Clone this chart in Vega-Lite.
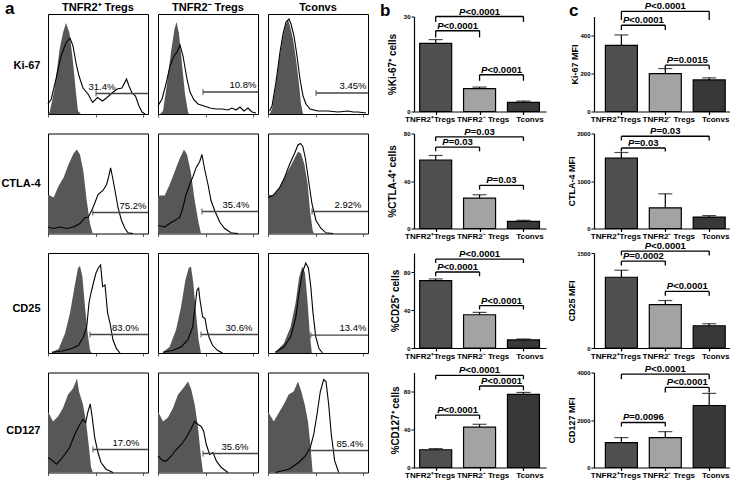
{
"$schema":"https://vega.github.io/schema/vega-lite/v6.json",
"padding":{"left":0,"top":0,"right":0,"bottom":0},
"background":"white",
"columns":8,
"spacing":{"row":19.5,"column":10},
"bounds":"flush",
"align":"each",
"center":true,
"config":{
 "font":"Liberation Sans",
 "view":{"stroke":"black","strokeWidth":1},
 "axis":{"grid":false,"domainColor":"black","tickColor":"black","labelColor":"black","titleColor":"black"},
 "axisY":{"labelFontSize":6,"labelFontWeight":"bold","tickSize":3,"domainWidth":1.2,"tickWidth":1,"labelPadding":1,"titleFontSize":10,"titleFontWeight":"bold"},
 "title":{"color":"black","fontWeight":"bold"}
},
"datasets":{
"hist":[
{"m":"Ki-67","p":"TNFR2⁺ Tregs","k":"c","x":0,"y":0},{"m":"Ki-67","p":"TNFR2⁺ Tregs","k":"c","x":1.6,"y":1.6},{"m":"Ki-67","p":"TNFR2⁺ Tregs","k":"c","x":6.6,"y":25},{"m":"Ki-67","p":"TNFR2⁺ Tregs","k":"c","x":11.5,"y":64},{"m":"Ki-67","p":"TNFR2⁺ Tregs","k":"c","x":14.9,"y":81},{"m":"Ki-67","p":"TNFR2⁺ Tregs","k":"c","x":18,"y":91},{"m":"Ki-67","p":"TNFR2⁺ Tregs","k":"c","x":21.5,"y":81},{"m":"Ki-67","p":"TNFR2⁺ Tregs","k":"c","x":24.8,"y":54},{"m":"Ki-67","p":"TNFR2⁺ Tregs","k":"c","x":28,"y":21},{"m":"Ki-67","p":"TNFR2⁺ Tregs","k":"c","x":30,"y":3},{"m":"Ki-67","p":"TNFR2⁺ Tregs","k":"c","x":33,"y":0},
{"m":"Ki-67","p":"TNFR2⁺ Tregs","k":"s","x":0,"y":10},{"m":"Ki-67","p":"TNFR2⁺ Tregs","k":"s","x":3.3,"y":15},{"m":"Ki-67","p":"TNFR2⁺ Tregs","k":"s","x":8,"y":35},{"m":"Ki-67","p":"TNFR2⁺ Tregs","k":"s","x":13,"y":58},{"m":"Ki-67","p":"TNFR2⁺ Tregs","k":"s","x":18,"y":71},{"m":"Ki-67","p":"TNFR2⁺ Tregs","k":"s","x":22,"y":76},{"m":"Ki-67","p":"TNFR2⁺ Tregs","k":"s","x":25,"y":68},{"m":"Ki-67","p":"TNFR2⁺ Tregs","k":"s","x":28,"y":51},{"m":"Ki-67","p":"TNFR2⁺ Tregs","k":"s","x":31,"y":38},{"m":"Ki-67","p":"TNFR2⁺ Tregs","k":"s","x":35,"y":26},{"m":"Ki-67","p":"TNFR2⁺ Tregs","k":"s","x":40,"y":20},{"m":"Ki-67","p":"TNFR2⁺ Tregs","k":"s","x":44.6,"y":11.6},{"m":"Ki-67","p":"TNFR2⁺ Tregs","k":"s","x":49.5,"y":16.5},{"m":"Ki-67","p":"TNFR2⁺ Tregs","k":"s","x":54.5,"y":13},{"m":"Ki-67","p":"TNFR2⁺ Tregs","k":"s","x":59,"y":16.5},{"m":"Ki-67","p":"TNFR2⁺ Tregs","k":"s","x":64,"y":21},{"m":"Ki-67","p":"TNFR2⁺ Tregs","k":"s","x":69,"y":25},{"m":"Ki-67","p":"TNFR2⁺ Tregs","k":"s","x":74,"y":26},{"m":"Ki-67","p":"TNFR2⁺ Tregs","k":"s","x":78.5,"y":35},{"m":"Ki-67","p":"TNFR2⁺ Tregs","k":"s","x":81,"y":28},{"m":"Ki-67","p":"TNFR2⁺ Tregs","k":"s","x":84,"y":21},{"m":"Ki-67","p":"TNFR2⁺ Tregs","k":"s","x":87.5,"y":18},{"m":"Ki-67","p":"TNFR2⁺ Tregs","k":"s","x":91,"y":8},{"m":"Ki-67","p":"TNFR2⁺ Tregs","k":"s","x":94,"y":2},{"m":"Ki-67","p":"TNFR2⁺ Tregs","k":"s","x":97,"y":0},
{"m":"Ki-67","p":"TNFR2⁺ Tregs","k":"g","x":48,"y":20.5,"tx":54,"t":"31.4%"},
{"m":"Ki-67","p":"TNFR2⁻ Tregs","k":"c","x":2,"y":0},{"m":"Ki-67","p":"TNFR2⁻ Tregs","k":"c","x":5,"y":3},{"m":"Ki-67","p":"TNFR2⁻ Tregs","k":"c","x":9,"y":30},{"m":"Ki-67","p":"TNFR2⁻ Tregs","k":"c","x":13,"y":62},{"m":"Ki-67","p":"TNFR2⁻ Tregs","k":"c","x":16.5,"y":85},{"m":"Ki-67","p":"TNFR2⁻ Tregs","k":"c","x":18.6,"y":92},{"m":"Ki-67","p":"TNFR2⁻ Tregs","k":"c","x":21,"y":80},{"m":"Ki-67","p":"TNFR2⁻ Tregs","k":"c","x":24,"y":50},{"m":"Ki-67","p":"TNFR2⁻ Tregs","k":"c","x":27,"y":20},{"m":"Ki-67","p":"TNFR2⁻ Tregs","k":"c","x":30,"y":2},{"m":"Ki-67","p":"TNFR2⁻ Tregs","k":"c","x":31,"y":0},
{"m":"Ki-67","p":"TNFR2⁻ Tregs","k":"s","x":0,"y":8},{"m":"Ki-67","p":"TNFR2⁻ Tregs","k":"s","x":4,"y":15},{"m":"Ki-67","p":"TNFR2⁻ Tregs","k":"s","x":8,"y":30},{"m":"Ki-67","p":"TNFR2⁻ Tregs","k":"s","x":12,"y":48},{"m":"Ki-67","p":"TNFR2⁻ Tregs","k":"s","x":16,"y":58},{"m":"Ki-67","p":"TNFR2⁻ Tregs","k":"s","x":19,"y":62},{"m":"Ki-67","p":"TNFR2⁻ Tregs","k":"s","x":22,"y":69},{"m":"Ki-67","p":"TNFR2⁻ Tregs","k":"s","x":25,"y":58},{"m":"Ki-67","p":"TNFR2⁻ Tregs","k":"s","x":29,"y":35},{"m":"Ki-67","p":"TNFR2⁻ Tregs","k":"s","x":32,"y":22},{"m":"Ki-67","p":"TNFR2⁻ Tregs","k":"s","x":36,"y":14},{"m":"Ki-67","p":"TNFR2⁻ Tregs","k":"s","x":40,"y":10},{"m":"Ki-67","p":"TNFR2⁻ Tregs","k":"s","x":46,"y":8},{"m":"Ki-67","p":"TNFR2⁻ Tregs","k":"s","x":52,"y":6},{"m":"Ki-67","p":"TNFR2⁻ Tregs","k":"s","x":58,"y":5},{"m":"Ki-67","p":"TNFR2⁻ Tregs","k":"s","x":64,"y":5},{"m":"Ki-67","p":"TNFR2⁻ Tregs","k":"s","x":70,"y":4},{"m":"Ki-67","p":"TNFR2⁻ Tregs","k":"s","x":74,"y":6},{"m":"Ki-67","p":"TNFR2⁻ Tregs","k":"s","x":78,"y":4},{"m":"Ki-67","p":"TNFR2⁻ Tregs","k":"s","x":82,"y":7},{"m":"Ki-67","p":"TNFR2⁻ Tregs","k":"s","x":86,"y":3},{"m":"Ki-67","p":"TNFR2⁻ Tregs","k":"s","x":90,"y":6},{"m":"Ki-67","p":"TNFR2⁻ Tregs","k":"s","x":94,"y":2},{"m":"Ki-67","p":"TNFR2⁻ Tregs","k":"s","x":98,"y":1},
{"m":"Ki-67","p":"TNFR2⁻ Tregs","k":"g","x":45,"y":22,"tx":85,"t":"10.8%"},
{"m":"Ki-67","p":"Tconvs","k":"c","x":1.6,"y":0},{"m":"Ki-67","p":"Tconvs","k":"c","x":4,"y":5},{"m":"Ki-67","p":"Tconvs","k":"c","x":8,"y":30},{"m":"Ki-67","p":"Tconvs","k":"c","x":12,"y":60},{"m":"Ki-67","p":"Tconvs","k":"c","x":15,"y":78},{"m":"Ki-67","p":"Tconvs","k":"c","x":18,"y":90},{"m":"Ki-67","p":"Tconvs","k":"c","x":20,"y":94},{"m":"Ki-67","p":"Tconvs","k":"c","x":22,"y":88},{"m":"Ki-67","p":"Tconvs","k":"c","x":25,"y":75},{"m":"Ki-67","p":"Tconvs","k":"c","x":28,"y":55},{"m":"Ki-67","p":"Tconvs","k":"c","x":31,"y":30},{"m":"Ki-67","p":"Tconvs","k":"c","x":33,"y":10},{"m":"Ki-67","p":"Tconvs","k":"c","x":35,"y":0},
{"m":"Ki-67","p":"Tconvs","k":"s","x":1.6,"y":3},{"m":"Ki-67","p":"Tconvs","k":"s","x":4,"y":8},{"m":"Ki-67","p":"Tconvs","k":"s","x":8,"y":32},{"m":"Ki-67","p":"Tconvs","k":"s","x":12,"y":62},{"m":"Ki-67","p":"Tconvs","k":"s","x":15,"y":80},{"m":"Ki-67","p":"Tconvs","k":"s","x":18,"y":92},{"m":"Ki-67","p":"Tconvs","k":"s","x":21,"y":95},{"m":"Ki-67","p":"Tconvs","k":"s","x":23,"y":90},{"m":"Ki-67","p":"Tconvs","k":"s","x":26,"y":78},{"m":"Ki-67","p":"Tconvs","k":"s","x":29,"y":58},{"m":"Ki-67","p":"Tconvs","k":"s","x":32,"y":35},{"m":"Ki-67","p":"Tconvs","k":"s","x":35,"y":18},{"m":"Ki-67","p":"Tconvs","k":"s","x":38,"y":10},{"m":"Ki-67","p":"Tconvs","k":"s","x":42,"y":5},{"m":"Ki-67","p":"Tconvs","k":"s","x":50,"y":3},{"m":"Ki-67","p":"Tconvs","k":"s","x":60,"y":3},{"m":"Ki-67","p":"Tconvs","k":"s","x":70,"y":2},{"m":"Ki-67","p":"Tconvs","k":"s","x":80,"y":3},{"m":"Ki-67","p":"Tconvs","k":"s","x":85,"y":2},{"m":"Ki-67","p":"Tconvs","k":"s","x":90,"y":2},{"m":"Ki-67","p":"Tconvs","k":"s","x":98,"y":1},
{"m":"Ki-67","p":"Tconvs","k":"g","x":48,"y":21,"tx":85,"t":"3.45%"},
{"m":"CTLA-4","p":"TNFR2⁺ Tregs","k":"c","x":0,"y":39},{"m":"CTLA-4","p":"TNFR2⁺ Tregs","k":"c","x":5.6,"y":36},{"m":"CTLA-4","p":"TNFR2⁺ Tregs","k":"c","x":10.6,"y":47.5},{"m":"CTLA-4","p":"TNFR2⁺ Tregs","k":"c","x":15.6,"y":56},{"m":"CTLA-4","p":"TNFR2⁺ Tregs","k":"c","x":20.5,"y":69},{"m":"CTLA-4","p":"TNFR2⁺ Tregs","k":"c","x":25.5,"y":80},{"m":"CTLA-4","p":"TNFR2⁺ Tregs","k":"c","x":28.8,"y":84},{"m":"CTLA-4","p":"TNFR2⁺ Tregs","k":"c","x":32,"y":79},{"m":"CTLA-4","p":"TNFR2⁺ Tregs","k":"c","x":35.4,"y":62},{"m":"CTLA-4","p":"TNFR2⁺ Tregs","k":"c","x":38.7,"y":33},{"m":"CTLA-4","p":"TNFR2⁺ Tregs","k":"c","x":42,"y":10},{"m":"CTLA-4","p":"TNFR2⁺ Tregs","k":"c","x":44.7,"y":0},
{"m":"CTLA-4","p":"TNFR2⁺ Tregs","k":"s","x":0,"y":6.5},{"m":"CTLA-4","p":"TNFR2⁺ Tregs","k":"s","x":5.6,"y":5},{"m":"CTLA-4","p":"TNFR2⁺ Tregs","k":"s","x":12,"y":6.5},{"m":"CTLA-4","p":"TNFR2⁺ Tregs","k":"s","x":19,"y":5},{"m":"CTLA-4","p":"TNFR2⁺ Tregs","k":"s","x":25.5,"y":6.5},{"m":"CTLA-4","p":"TNFR2⁺ Tregs","k":"s","x":32,"y":10},{"m":"CTLA-4","p":"TNFR2⁺ Tregs","k":"s","x":37,"y":16},{"m":"CTLA-4","p":"TNFR2⁺ Tregs","k":"s","x":40,"y":16},{"m":"CTLA-4","p":"TNFR2⁺ Tregs","k":"s","x":43.7,"y":23},{"m":"CTLA-4","p":"TNFR2⁺ Tregs","k":"s","x":47,"y":31},{"m":"CTLA-4","p":"TNFR2⁺ Tregs","k":"s","x":50,"y":39},{"m":"CTLA-4","p":"TNFR2⁺ Tregs","k":"s","x":55,"y":43},{"m":"CTLA-4","p":"TNFR2⁺ Tregs","k":"s","x":58.6,"y":49},{"m":"CTLA-4","p":"TNFR2⁺ Tregs","k":"s","x":60,"y":54},{"m":"CTLA-4","p":"TNFR2⁺ Tregs","k":"s","x":62.6,"y":65.6},{"m":"CTLA-4","p":"TNFR2⁺ Tregs","k":"s","x":64.6,"y":56},{"m":"CTLA-4","p":"TNFR2⁺ Tregs","k":"s","x":67,"y":43},{"m":"CTLA-4","p":"TNFR2⁺ Tregs","k":"s","x":70,"y":26},{"m":"CTLA-4","p":"TNFR2⁺ Tregs","k":"s","x":73.5,"y":13},{"m":"CTLA-4","p":"TNFR2⁺ Tregs","k":"s","x":77,"y":5},{"m":"CTLA-4","p":"TNFR2⁺ Tregs","k":"s","x":80,"y":0.7},{"m":"CTLA-4","p":"TNFR2⁺ Tregs","k":"s","x":85,"y":0},
{"m":"CTLA-4","p":"TNFR2⁺ Tregs","k":"g","x":44.7,"y":21,"tx":85,"t":"75.2%"},
{"m":"CTLA-4","p":"TNFR2⁻ Tregs","k":"c","x":0,"y":38},{"m":"CTLA-4","p":"TNFR2⁻ Tregs","k":"c","x":6.7,"y":38},{"m":"CTLA-4","p":"TNFR2⁻ Tregs","k":"c","x":11.7,"y":49},{"m":"CTLA-4","p":"TNFR2⁻ Tregs","k":"c","x":16.7,"y":62},{"m":"CTLA-4","p":"TNFR2⁻ Tregs","k":"c","x":21.7,"y":75},{"m":"CTLA-4","p":"TNFR2⁻ Tregs","k":"c","x":26,"y":84},{"m":"CTLA-4","p":"TNFR2⁻ Tregs","k":"c","x":29,"y":79},{"m":"CTLA-4","p":"TNFR2⁻ Tregs","k":"c","x":32.7,"y":62},{"m":"CTLA-4","p":"TNFR2⁻ Tregs","k":"c","x":36.7,"y":33},{"m":"CTLA-4","p":"TNFR2⁻ Tregs","k":"c","x":40.7,"y":10},{"m":"CTLA-4","p":"TNFR2⁻ Tregs","k":"c","x":43,"y":0},
{"m":"CTLA-4","p":"TNFR2⁻ Tregs","k":"s","x":0,"y":8},{"m":"CTLA-4","p":"TNFR2⁻ Tregs","k":"s","x":6.7,"y":6.5},{"m":"CTLA-4","p":"TNFR2⁻ Tregs","k":"s","x":11.7,"y":10},{"m":"CTLA-4","p":"TNFR2⁻ Tregs","k":"s","x":16.7,"y":13},{"m":"CTLA-4","p":"TNFR2⁻ Tregs","k":"s","x":21.7,"y":16},{"m":"CTLA-4","p":"TNFR2⁻ Tregs","k":"s","x":25,"y":26},{"m":"CTLA-4","p":"TNFR2⁻ Tregs","k":"s","x":28,"y":39},{"m":"CTLA-4","p":"TNFR2⁻ Tregs","k":"s","x":31.7,"y":49},{"m":"CTLA-4","p":"TNFR2⁻ Tregs","k":"s","x":35,"y":57},{"m":"CTLA-4","p":"TNFR2⁻ Tregs","k":"s","x":38,"y":65.6},{"m":"CTLA-4","p":"TNFR2⁻ Tregs","k":"s","x":41.7,"y":72},{"m":"CTLA-4","p":"TNFR2⁻ Tregs","k":"s","x":44,"y":79},{"m":"CTLA-4","p":"TNFR2⁻ Tregs","k":"s","x":46.7,"y":64},{"m":"CTLA-4","p":"TNFR2⁻ Tregs","k":"s","x":50,"y":49},{"m":"CTLA-4","p":"TNFR2⁻ Tregs","k":"s","x":53,"y":33},{"m":"CTLA-4","p":"TNFR2⁻ Tregs","k":"s","x":56.7,"y":23},{"m":"CTLA-4","p":"TNFR2⁻ Tregs","k":"s","x":61.7,"y":11.5},{"m":"CTLA-4","p":"TNFR2⁻ Tregs","k":"s","x":66.7,"y":5},{"m":"CTLA-4","p":"TNFR2⁻ Tregs","k":"s","x":73,"y":0.7},{"m":"CTLA-4","p":"TNFR2⁻ Tregs","k":"s","x":80,"y":0},
{"m":"CTLA-4","p":"TNFR2⁻ Tregs","k":"g","x":44,"y":22,"tx":78,"t":"35.4%"},
{"m":"CTLA-4","p":"Tconvs","k":"c","x":0,"y":39},{"m":"CTLA-4","p":"Tconvs","k":"c","x":5,"y":38},{"m":"CTLA-4","p":"Tconvs","k":"c","x":11.6,"y":46},{"m":"CTLA-4","p":"Tconvs","k":"c","x":16.6,"y":56},{"m":"CTLA-4","p":"Tconvs","k":"c","x":21.5,"y":65.6},{"m":"CTLA-4","p":"Tconvs","k":"c","x":26.5,"y":75},{"m":"CTLA-4","p":"Tconvs","k":"c","x":30,"y":82},{"m":"CTLA-4","p":"Tconvs","k":"c","x":33,"y":80},{"m":"CTLA-4","p":"Tconvs","k":"c","x":36.4,"y":69},{"m":"CTLA-4","p":"Tconvs","k":"c","x":39.7,"y":49},{"m":"CTLA-4","p":"Tconvs","k":"c","x":42,"y":23},{"m":"CTLA-4","p":"Tconvs","k":"c","x":44.7,"y":3},{"m":"CTLA-4","p":"Tconvs","k":"c","x":46,"y":0},
{"m":"CTLA-4","p":"Tconvs","k":"s","x":0,"y":36},{"m":"CTLA-4","p":"Tconvs","k":"s","x":5,"y":38},{"m":"CTLA-4","p":"Tconvs","k":"s","x":11.6,"y":46},{"m":"CTLA-4","p":"Tconvs","k":"s","x":16.6,"y":56},{"m":"CTLA-4","p":"Tconvs","k":"s","x":21.5,"y":69},{"m":"CTLA-4","p":"Tconvs","k":"s","x":26.5,"y":80},{"m":"CTLA-4","p":"Tconvs","k":"s","x":30,"y":88.5},{"m":"CTLA-4","p":"Tconvs","k":"s","x":32.5,"y":90},{"m":"CTLA-4","p":"Tconvs","k":"s","x":34.8,"y":87},{"m":"CTLA-4","p":"Tconvs","k":"s","x":37.4,"y":75},{"m":"CTLA-4","p":"Tconvs","k":"s","x":40.7,"y":52},{"m":"CTLA-4","p":"Tconvs","k":"s","x":44,"y":29.5},{"m":"CTLA-4","p":"Tconvs","k":"s","x":48,"y":13},{"m":"CTLA-4","p":"Tconvs","k":"s","x":53,"y":5},{"m":"CTLA-4","p":"Tconvs","k":"s","x":58,"y":0.7},{"m":"CTLA-4","p":"Tconvs","k":"s","x":65,"y":0},
{"m":"CTLA-4","p":"Tconvs","k":"g","x":44,"y":22,"tx":80,"t":"2.92%"},
{"m":"CD25","p":"TNFR2⁺ Tregs","k":"c","x":4,"y":1},{"m":"CD25","p":"TNFR2⁺ Tregs","k":"c","x":10.6,"y":4},{"m":"CD25","p":"TNFR2⁺ Tregs","k":"c","x":17,"y":19.5},{"m":"CD25","p":"TNFR2⁺ Tregs","k":"c","x":22,"y":40},{"m":"CD25","p":"TNFR2⁺ Tregs","k":"c","x":26.5,"y":66},{"m":"CD25","p":"TNFR2⁺ Tregs","k":"c","x":30,"y":85},{"m":"CD25","p":"TNFR2⁺ Tregs","k":"c","x":32,"y":87},{"m":"CD25","p":"TNFR2⁺ Tregs","k":"c","x":34.4,"y":76.5},{"m":"CD25","p":"TNFR2⁺ Tregs","k":"c","x":37,"y":46},{"m":"CD25","p":"TNFR2⁺ Tregs","k":"c","x":39.7,"y":19.5},{"m":"CD25","p":"TNFR2⁺ Tregs","k":"c","x":42,"y":2.7},{"m":"CD25","p":"TNFR2⁺ Tregs","k":"c","x":43.7,"y":0},
{"m":"CD25","p":"TNFR2⁺ Tregs","k":"s","x":4,"y":0.7},{"m":"CD25","p":"TNFR2⁺ Tregs","k":"s","x":14,"y":2},{"m":"CD25","p":"TNFR2⁺ Tregs","k":"s","x":24,"y":4.4},{"m":"CD25","p":"TNFR2⁺ Tregs","k":"s","x":30.5,"y":7.7},{"m":"CD25","p":"TNFR2⁺ Tregs","k":"s","x":35.4,"y":16},{"m":"CD25","p":"TNFR2⁺ Tregs","k":"s","x":38.7,"y":26},{"m":"CD25","p":"TNFR2⁺ Tregs","k":"s","x":41,"y":50},{"m":"CD25","p":"TNFR2⁺ Tregs","k":"s","x":43,"y":60},{"m":"CD25","p":"TNFR2⁺ Tregs","k":"s","x":45.4,"y":70},{"m":"CD25","p":"TNFR2⁺ Tregs","k":"s","x":48,"y":80},{"m":"CD25","p":"TNFR2⁺ Tregs","k":"s","x":50.3,"y":85},{"m":"CD25","p":"TNFR2⁺ Tregs","k":"s","x":52.6,"y":88},{"m":"CD25","p":"TNFR2⁺ Tregs","k":"s","x":54.6,"y":66.4},{"m":"CD25","p":"TNFR2⁺ Tregs","k":"s","x":57,"y":68},{"m":"CD25","p":"TNFR2⁺ Tregs","k":"s","x":59.6,"y":40},{"m":"CD25","p":"TNFR2⁺ Tregs","k":"s","x":62,"y":30},{"m":"CD25","p":"TNFR2⁺ Tregs","k":"s","x":65,"y":13},{"m":"CD25","p":"TNFR2⁺ Tregs","k":"s","x":68.5,"y":4.4},{"m":"CD25","p":"TNFR2⁺ Tregs","k":"s","x":72,"y":0},
{"m":"CD25","p":"TNFR2⁺ Tregs","k":"g","x":42,"y":18.5,"tx":77.5,"t":"83.0%"},
{"m":"CD25","p":"TNFR2⁻ Tregs","k":"c","x":5,"y":1},{"m":"CD25","p":"TNFR2⁻ Tregs","k":"c","x":11.5,"y":6},{"m":"CD25","p":"TNFR2⁻ Tregs","k":"c","x":18,"y":23},{"m":"CD25","p":"TNFR2⁻ Tregs","k":"c","x":23,"y":46},{"m":"CD25","p":"TNFR2⁻ Tregs","k":"c","x":27.4,"y":73},{"m":"CD25","p":"TNFR2⁻ Tregs","k":"c","x":30.7,"y":85},{"m":"CD25","p":"TNFR2⁻ Tregs","k":"c","x":33,"y":86.6},{"m":"CD25","p":"TNFR2⁻ Tregs","k":"c","x":35.3,"y":70},{"m":"CD25","p":"TNFR2⁻ Tregs","k":"c","x":38,"y":40},{"m":"CD25","p":"TNFR2⁻ Tregs","k":"c","x":40.6,"y":13},{"m":"CD25","p":"TNFR2⁻ Tregs","k":"c","x":43,"y":0},
{"m":"CD25","p":"TNFR2⁻ Tregs","k":"s","x":5,"y":0.7},{"m":"CD25","p":"TNFR2⁻ Tregs","k":"s","x":15,"y":2.7},{"m":"CD25","p":"TNFR2⁻ Tregs","k":"s","x":23,"y":6},{"m":"CD25","p":"TNFR2⁻ Tregs","k":"s","x":29.7,"y":12.8},{"m":"CD25","p":"TNFR2⁻ Tregs","k":"s","x":34.6,"y":26},{"m":"CD25","p":"TNFR2⁻ Tregs","k":"s","x":37,"y":46},{"m":"CD25","p":"TNFR2⁻ Tregs","k":"s","x":39,"y":63},{"m":"CD25","p":"TNFR2⁻ Tregs","k":"s","x":40.6,"y":65},{"m":"CD25","p":"TNFR2⁻ Tregs","k":"s","x":42,"y":53},{"m":"CD25","p":"TNFR2⁻ Tregs","k":"s","x":44.6,"y":36},{"m":"CD25","p":"TNFR2⁻ Tregs","k":"s","x":47,"y":34.6},{"m":"CD25","p":"TNFR2⁻ Tregs","k":"s","x":49,"y":23},{"m":"CD25","p":"TNFR2⁻ Tregs","k":"s","x":51,"y":16},{"m":"CD25","p":"TNFR2⁻ Tregs","k":"s","x":54.5,"y":7.7},{"m":"CD25","p":"TNFR2⁻ Tregs","k":"s","x":59.4,"y":2.7},{"m":"CD25","p":"TNFR2⁻ Tregs","k":"s","x":64.4,"y":0},
{"m":"CD25","p":"TNFR2⁻ Tregs","k":"g","x":43,"y":18.5,"tx":81,"t":"30.6%"},
{"m":"CD25","p":"Tconvs","k":"c","x":7.4,"y":1},{"m":"CD25","p":"Tconvs","k":"c","x":15.8,"y":9.4},{"m":"CD25","p":"Tconvs","k":"c","x":22.6,"y":26},{"m":"CD25","p":"Tconvs","k":"c","x":27.6,"y":50},{"m":"CD25","p":"Tconvs","k":"c","x":31,"y":75},{"m":"CD25","p":"Tconvs","k":"c","x":34.3,"y":86.6},{"m":"CD25","p":"Tconvs","k":"c","x":37,"y":80},{"m":"CD25","p":"Tconvs","k":"c","x":39.4,"y":53},{"m":"CD25","p":"Tconvs","k":"c","x":41.8,"y":19.5},{"m":"CD25","p":"Tconvs","k":"c","x":43.8,"y":0},
{"m":"CD25","p":"Tconvs","k":"s","x":7.4,"y":0.7},{"m":"CD25","p":"Tconvs","k":"s","x":15.8,"y":6},{"m":"CD25","p":"Tconvs","k":"s","x":22.6,"y":16},{"m":"CD25","p":"Tconvs","k":"s","x":27.6,"y":34.6},{"m":"CD25","p":"Tconvs","k":"s","x":31,"y":60},{"m":"CD25","p":"Tconvs","k":"s","x":34.3,"y":80},{"m":"CD25","p":"Tconvs","k":"s","x":37.7,"y":90},{"m":"CD25","p":"Tconvs","k":"s","x":40.4,"y":85},{"m":"CD25","p":"Tconvs","k":"s","x":42.8,"y":66.4},{"m":"CD25","p":"Tconvs","k":"s","x":45,"y":40},{"m":"CD25","p":"Tconvs","k":"s","x":47.8,"y":16},{"m":"CD25","p":"Tconvs","k":"s","x":51,"y":4.4},{"m":"CD25","p":"Tconvs","k":"s","x":54.5,"y":0},
{"m":"CD25","p":"Tconvs","k":"g","x":42.8,"y":17.8,"tx":85,"t":"13.4%"},
{"m":"CD127","p":"TNFR2⁺ Tregs","k":"c","x":0,"y":61},{"m":"CD127","p":"TNFR2⁺ Tregs","k":"c","x":5,"y":51},{"m":"CD127","p":"TNFR2⁺ Tregs","k":"c","x":10,"y":56},{"m":"CD127","p":"TNFR2⁺ Tregs","k":"c","x":15,"y":64.6},{"m":"CD127","p":"TNFR2⁺ Tregs","k":"c","x":20,"y":78},{"m":"CD127","p":"TNFR2⁺ Tregs","k":"c","x":25,"y":84},{"m":"CD127","p":"TNFR2⁺ Tregs","k":"c","x":29,"y":94},{"m":"CD127","p":"TNFR2⁺ Tregs","k":"c","x":31,"y":81},{"m":"CD127","p":"TNFR2⁺ Tregs","k":"c","x":35,"y":68},{"m":"CD127","p":"TNFR2⁺ Tregs","k":"c","x":38,"y":51},{"m":"CD127","p":"TNFR2⁺ Tregs","k":"c","x":41,"y":25},{"m":"CD127","p":"TNFR2⁺ Tregs","k":"c","x":43,"y":5},{"m":"CD127","p":"TNFR2⁺ Tregs","k":"c","x":45,"y":0},
{"m":"CD127","p":"TNFR2⁺ Tregs","k":"s","x":0,"y":15},{"m":"CD127","p":"TNFR2⁺ Tregs","k":"s","x":5,"y":11.6},{"m":"CD127","p":"TNFR2⁺ Tregs","k":"s","x":8.3,"y":8.3},{"m":"CD127","p":"TNFR2⁺ Tregs","k":"s","x":11.7,"y":11.6},{"m":"CD127","p":"TNFR2⁺ Tregs","k":"s","x":16.7,"y":18},{"m":"CD127","p":"TNFR2⁺ Tregs","k":"s","x":21.7,"y":25},{"m":"CD127","p":"TNFR2⁺ Tregs","k":"s","x":26.7,"y":38},{"m":"CD127","p":"TNFR2⁺ Tregs","k":"s","x":31.7,"y":48},{"m":"CD127","p":"TNFR2⁺ Tregs","k":"s","x":35,"y":53},{"m":"CD127","p":"TNFR2⁺ Tregs","k":"s","x":37.7,"y":50},{"m":"CD127","p":"TNFR2⁺ Tregs","k":"s","x":40,"y":61},{"m":"CD127","p":"TNFR2⁺ Tregs","k":"s","x":42.3,"y":68.5},{"m":"CD127","p":"TNFR2⁺ Tregs","k":"s","x":44.3,"y":54.6},{"m":"CD127","p":"TNFR2⁺ Tregs","k":"s","x":46.7,"y":34.8},{"m":"CD127","p":"TNFR2⁺ Tregs","k":"s","x":50,"y":20},{"m":"CD127","p":"TNFR2⁺ Tregs","k":"s","x":53,"y":10},{"m":"CD127","p":"TNFR2⁺ Tregs","k":"s","x":58,"y":3.3},{"m":"CD127","p":"TNFR2⁺ Tregs","k":"s","x":65,"y":0},
{"m":"CD127","p":"TNFR2⁺ Tregs","k":"g","x":45,"y":23,"tx":78,"t":"17.0%"},
{"m":"CD127","p":"TNFR2⁻ Tregs","k":"c","x":0,"y":61},{"m":"CD127","p":"TNFR2⁻ Tregs","k":"c","x":5,"y":51},{"m":"CD127","p":"TNFR2⁻ Tregs","k":"c","x":10,"y":55},{"m":"CD127","p":"TNFR2⁻ Tregs","k":"c","x":15,"y":64.6},{"m":"CD127","p":"TNFR2⁻ Tregs","k":"c","x":20,"y":78},{"m":"CD127","p":"TNFR2⁻ Tregs","k":"c","x":25,"y":84},{"m":"CD127","p":"TNFR2⁻ Tregs","k":"c","x":30,"y":91},{"m":"CD127","p":"TNFR2⁻ Tregs","k":"c","x":33,"y":84},{"m":"CD127","p":"TNFR2⁻ Tregs","k":"c","x":36.7,"y":68},{"m":"CD127","p":"TNFR2⁻ Tregs","k":"c","x":40,"y":45},{"m":"CD127","p":"TNFR2⁻ Tregs","k":"c","x":42.7,"y":18},{"m":"CD127","p":"TNFR2⁻ Tregs","k":"c","x":45,"y":0},
{"m":"CD127","p":"TNFR2⁻ Tregs","k":"s","x":0,"y":16.5},{"m":"CD127","p":"TNFR2⁻ Tregs","k":"s","x":5,"y":11.6},{"m":"CD127","p":"TNFR2⁻ Tregs","k":"s","x":8.3,"y":11.6},{"m":"CD127","p":"TNFR2⁻ Tregs","k":"s","x":13.3,"y":16.5},{"m":"CD127","p":"TNFR2⁻ Tregs","k":"s","x":18.3,"y":23},{"m":"CD127","p":"TNFR2⁻ Tregs","k":"s","x":23.3,"y":28},{"m":"CD127","p":"TNFR2⁻ Tregs","k":"s","x":28.3,"y":35},{"m":"CD127","p":"TNFR2⁻ Tregs","k":"s","x":32.7,"y":43},{"m":"CD127","p":"TNFR2⁻ Tregs","k":"s","x":36.7,"y":51},{"m":"CD127","p":"TNFR2⁻ Tregs","k":"s","x":40,"y":48},{"m":"CD127","p":"TNFR2⁻ Tregs","k":"s","x":43.3,"y":46},{"m":"CD127","p":"TNFR2⁻ Tregs","k":"s","x":45.7,"y":41},{"m":"CD127","p":"TNFR2⁻ Tregs","k":"s","x":48.3,"y":28},{"m":"CD127","p":"TNFR2⁻ Tregs","k":"s","x":51.7,"y":18},{"m":"CD127","p":"TNFR2⁻ Tregs","k":"s","x":55,"y":20},{"m":"CD127","p":"TNFR2⁻ Tregs","k":"s","x":58.3,"y":11.6},{"m":"CD127","p":"TNFR2⁻ Tregs","k":"s","x":63.3,"y":5},{"m":"CD127","p":"TNFR2⁻ Tregs","k":"s","x":70,"y":0},
{"m":"CD127","p":"TNFR2⁻ Tregs","k":"g","x":45,"y":19,"tx":77,"t":"35.6%"},
{"m":"CD127","p":"Tconvs","k":"c","x":0,"y":61},{"m":"CD127","p":"Tconvs","k":"c","x":5.7,"y":51},{"m":"CD127","p":"Tconvs","k":"c","x":10.7,"y":59.6},{"m":"CD127","p":"Tconvs","k":"c","x":15.7,"y":68},{"m":"CD127","p":"Tconvs","k":"c","x":20.7,"y":78},{"m":"CD127","p":"Tconvs","k":"c","x":25.7,"y":81},{"m":"CD127","p":"Tconvs","k":"c","x":30,"y":91},{"m":"CD127","p":"Tconvs","k":"c","x":33.3,"y":81},{"m":"CD127","p":"Tconvs","k":"c","x":36.7,"y":68},{"m":"CD127","p":"Tconvs","k":"c","x":40,"y":51},{"m":"CD127","p":"Tconvs","k":"c","x":42.3,"y":28},{"m":"CD127","p":"Tconvs","k":"c","x":44.7,"y":0},
{"m":"CD127","p":"Tconvs","k":"s","x":7.3,"y":0},{"m":"CD127","p":"Tconvs","k":"s","x":20.7,"y":3.3},{"m":"CD127","p":"Tconvs","k":"s","x":30.7,"y":10},{"m":"CD127","p":"Tconvs","k":"s","x":37.3,"y":16.5},{"m":"CD127","p":"Tconvs","k":"s","x":42.3,"y":25},{"m":"CD127","p":"Tconvs","k":"s","x":45.7,"y":38},{"m":"CD127","p":"Tconvs","k":"s","x":49,"y":58},{"m":"CD127","p":"Tconvs","k":"s","x":52.3,"y":81},{"m":"CD127","p":"Tconvs","k":"s","x":55.7,"y":93},{"m":"CD127","p":"Tconvs","k":"s","x":58,"y":91},{"m":"CD127","p":"Tconvs","k":"s","x":60.7,"y":68},{"m":"CD127","p":"Tconvs","k":"s","x":63.3,"y":38},{"m":"CD127","p":"Tconvs","k":"s","x":66.7,"y":11.6},{"m":"CD127","p":"Tconvs","k":"s","x":70.7,"y":0},
{"m":"CD127","p":"Tconvs","k":"g","x":42.3,"y":22,"tx":82,"t":"85.4%"}
],
"bc":[
{"c":"b1","k":"bar","g":1,"mean":21.5,"up":22.7},{"c":"b1","k":"bar","g":2,"mean":7.2,"up":7.7},{"c":"b1","k":"bar","g":3,"mean":2.9,"up":3.3},
{"c":"b1","k":"brk","a":1,"b":3,"y":30,"lo":28.3,"t":"<0.0001"},{"c":"b1","k":"brk","a":1,"b":2,"y":25.5,"lo":23.4,"t":"<0.0001"},{"c":"b1","k":"brk","a":2,"b":3,"y":11.6,"lo":9.7,"t":"<0.0001"},
{"c":"c1","k":"bar","g":1,"mean":348,"up":403},{"c":"c1","k":"bar","g":2,"mean":199,"up":226},{"c":"c1","k":"bar","g":3,"mean":166,"up":177},
{"c":"c1","k":"brk","a":1,"b":3,"y":527,"lo":482,"t":"<0.0001"},{"c":"c1","k":"brk","a":1,"b":2,"y":454,"lo":429,"t":"<0.0001"},{"c":"c1","k":"brk","a":2,"b":3,"y":244,"lo":222,"t":"=0.0015"},
{"c":"b2","k":"bar","g":1,"mean":57.7,"up":61.5},{"c":"b2","k":"bar","g":2,"mean":25.5,"up":28.4},{"c":"b2","k":"bar","g":3,"mean":6,"up":6.9},
{"c":"b2","k":"brk","a":1,"b":3,"y":77.2,"lo":73.7,"t":"=0.03"},{"c":"b2","k":"brk","a":1,"b":2,"y":68.5,"lo":65,"t":"=0.03"},{"c":"b2","k":"brk","a":2,"b":3,"y":36.4,"lo":32.7,"t":"=0.03"},
{"c":"c2","k":"bar","g":1,"mean":1480,"up":1600},{"c":"c2","k":"bar","g":2,"mean":436,"up":730},{"c":"c2","k":"bar","g":3,"mean":240,"up":272},
{"c":"c2","k":"brk","a":1,"b":3,"y":1942,"lo":1855,"t":"=0.03"},{"c":"c2","k":"brk","a":1,"b":2,"y":1695,"lo":1620,"t":"=0.03"},
{"c":"b3","k":"bar","g":1,"mean":71,"up":72.7},{"c":"b3","k":"bar","g":2,"mean":35,"up":37.5},{"c":"b3","k":"bar","g":3,"mean":8.5,"up":9.5},
{"c":"b3","k":"brk","a":1,"b":3,"y":93.5,"lo":89.5,"t":"<0.0001"},{"c":"b3","k":"brk","a":1,"b":2,"y":80,"lo":75.5,"t":"<0.0001"},{"c":"b3","k":"brk","a":2,"b":3,"y":44.7,"lo":40.5,"t":"<0.0001"},
{"c":"c3","k":"bar","g":1,"mean":1117,"up":1228},{"c":"c3","k":"bar","g":2,"mean":686,"up":750},{"c":"c3","k":"bar","g":3,"mean":351,"up":383},
{"c":"c3","k":"brk","a":1,"b":3,"y":1531,"lo":1462,"t":"<0.0001"},{"c":"c3","k":"brk","a":1,"b":2,"y":1372,"lo":1303,"t":"=0.0002"},{"c":"c3","k":"brk","a":2,"b":3,"y":893,"lo":825,"t":"<0.0001"},
{"c":"b4","k":"bar","g":1,"mean":18.7,"up":19.9},{"c":"b4","k":"bar","g":2,"mean":42.5,"up":45.5},{"c":"b4","k":"bar","g":3,"mean":77,"up":79},
{"c":"b4","k":"brk","a":1,"b":3,"y":96.9,"lo":92.7,"t":"<0.0001"},{"c":"b4","k":"brk","a":2,"b":3,"y":85.8,"lo":81.3,"t":"<0.0001"},{"c":"b4","k":"brk","a":1,"b":2,"y":55.2,"lo":51,"t":"<0.0001"},
{"c":"c4","k":"bar","g":1,"mean":1050,"up":1260},{"c":"c4","k":"bar","g":2,"mean":1260,"up":1510},{"c":"c4","k":"bar","g":3,"mean":2610,"up":3120},
{"c":"c4","k":"brk","a":1,"b":3,"y":3930,"lo":3720,"t":"<0.0001"},{"c":"c4","k":"brk","a":2,"b":3,"y":3370,"lo":3160,"t":"<0.0001"},{"c":"c4","k":"brk","a":1,"b":2,"y":1895,"lo":1726,"t":"=0.0096"}
]
},
"concat":[
 {"width":37,"height":100,"view":{"stroke":null},"title":{"text":"a","anchor":"start","frame":"group","fontSize":17,"dx":4,"dy":16,"offset":-1,"baseline":"alphabetic"},"data":{"values":[]},"mark":"point","encoding":{}},
 {"width":100,"height":100,"title":{"text":"TNFR2⁺ Tregs","fontSize":11,"offset":3,"dy":2},"data":{"name":"hist"},"transform":[{"filter":"datum.m=='Ki-67'&&datum.p=='TNFR2⁺ Tregs'"}],
  "layer":[
   {"transform":[{"filter":"datum.k=='c'"}],"mark":{"type":"area","color":"#575757"},"encoding":{"x":{"field":"x","type":"quantitative","scale":{"domain":[0,100],"nice":false,"zero":false},"axis":{"labels":false,"title":null,"domain":false,"tickSize":3,"tickColor":"#333","tickWidth":0.8,"values":[0,7.5,11.9,15.1,17.5,19.5,21.1,22.6,23.9,25,32.5,36.9,40.1,42.5,44.5,46.1,47.6,48.9,50,57.5,61.9,65.1,67.5,69.5,71.1,72.6,73.9,75,82.5,86.9,90.1,92.5,94.5,96.1,97.6,98.9,100]}},"y":{"field":"y","type":"quantitative","scale":{"domain":[0,100],"nice":false},"axis":{"title":"Ki-67","labels":false,"ticks":false,"domain":false,"titleAngle":0,"titleAlign":"right","titleBaseline":"middle","titleX":-8,"titleY":51,"titleFontSize":11}}}},
   {"transform":[{"filter":"datum.k=='s'"}],"mark":{"type":"line","color":"black","strokeWidth":1.1},"encoding":{"x":{"field":"x","type":"quantitative"},"y":{"field":"y","type":"quantitative"}}},
   {"transform":[{"filter":"datum.k=='g'"}],"mark":{"type":"rule","color":"#444","strokeWidth":1.3},"encoding":{"x":{"field":"x","type":"quantitative"},"x2":{"datum":100},"y":{"field":"y","type":"quantitative"}}},
   {"transform":[{"filter":"datum.k=='g'"}],"mark":{"type":"tick","orient":"vertical","size":6,"thickness":1.3,"color":"#444"},"encoding":{"x":{"field":"x","type":"quantitative"},"y":{"field":"y","type":"quantitative"}}},
   {"transform":[{"filter":"datum.k=='g'"}],"mark":{"type":"text","fontSize":9.5,"baseline":"alphabetic","dy":-4},"encoding":{"x":{"field":"tx","type":"quantitative"},"y":{"field":"y","type":"quantitative"},"text":{"field":"t"}}}
  ]},
 {"width":100,"height":100,"title":{"text":"TNFR2⁻ Tregs","fontSize":11,"offset":3,"dy":2},"data":{"name":"hist"},"transform":[{"filter":"datum.m=='Ki-67'&&datum.p=='TNFR2⁻ Tregs'"}],
  "layer":[
   {"transform":[{"filter":"datum.k=='c'"}],"mark":{"type":"area","color":"#575757"},"encoding":{"x":{"field":"x","type":"quantitative","scale":{"domain":[0,100],"nice":false,"zero":false},"axis":{"labels":false,"title":null,"domain":false,"tickSize":3,"tickColor":"#333","tickWidth":0.8,"values":[0,7.5,11.9,15.1,17.5,19.5,21.1,22.6,23.9,25,32.5,36.9,40.1,42.5,44.5,46.1,47.6,48.9,50,57.5,61.9,65.1,67.5,69.5,71.1,72.6,73.9,75,82.5,86.9,90.1,92.5,94.5,96.1,97.6,98.9,100]}},"y":{"field":"y","type":"quantitative","scale":{"domain":[0,100],"nice":false},"axis":null}}},
   {"transform":[{"filter":"datum.k=='s'"}],"mark":{"type":"line","color":"black","strokeWidth":1.1},"encoding":{"x":{"field":"x","type":"quantitative"},"y":{"field":"y","type":"quantitative","axis":null}}},
   {"transform":[{"filter":"datum.k=='g'"}],"mark":{"type":"rule","color":"#444","strokeWidth":1.3},"encoding":{"x":{"field":"x","type":"quantitative"},"x2":{"datum":100},"y":{"field":"y","type":"quantitative","axis":null}}},
   {"transform":[{"filter":"datum.k=='g'"}],"mark":{"type":"tick","orient":"vertical","size":6,"thickness":1.3,"color":"#444"},"encoding":{"x":{"field":"x","type":"quantitative"},"y":{"field":"y","type":"quantitative","axis":null}}},
   {"transform":[{"filter":"datum.k=='g'"}],"mark":{"type":"text","fontSize":9.5,"baseline":"alphabetic","dy":-4},"encoding":{"x":{"field":"tx","type":"quantitative"},"y":{"field":"y","type":"quantitative","axis":null},"text":{"field":"t"}}}
  ]},
 {"width":100,"height":100,"title":{"text":"Tconvs","fontSize":11,"offset":3,"dy":2},"data":{"name":"hist"},"transform":[{"filter":"datum.m=='Ki-67'&&datum.p=='Tconvs'"}],
  "layer":[
   {"transform":[{"filter":"datum.k=='c'"}],"mark":{"type":"area","color":"#575757"},"encoding":{"x":{"field":"x","type":"quantitative","scale":{"domain":[0,100],"nice":false,"zero":false},"axis":{"labels":false,"title":null,"domain":false,"tickSize":3,"tickColor":"#333","tickWidth":0.8,"values":[0,7.5,11.9,15.1,17.5,19.5,21.1,22.6,23.9,25,32.5,36.9,40.1,42.5,44.5,46.1,47.6,48.9,50,57.5,61.9,65.1,67.5,69.5,71.1,72.6,73.9,75,82.5,86.9,90.1,92.5,94.5,96.1,97.6,98.9,100]}},"y":{"field":"y","type":"quantitative","scale":{"domain":[0,100],"nice":false},"axis":null}}},
   {"transform":[{"filter":"datum.k=='s'"}],"mark":{"type":"line","color":"black","strokeWidth":1.1},"encoding":{"x":{"field":"x","type":"quantitative"},"y":{"field":"y","type":"quantitative","axis":null}}},
   {"transform":[{"filter":"datum.k=='g'"}],"mark":{"type":"rule","color":"#444","strokeWidth":1.3},"encoding":{"x":{"field":"x","type":"quantitative"},"x2":{"datum":100},"y":{"field":"y","type":"quantitative","axis":null}}},
   {"transform":[{"filter":"datum.k=='g'"}],"mark":{"type":"tick","orient":"vertical","size":6,"thickness":1.3,"color":"#444"},"encoding":{"x":{"field":"x","type":"quantitative"},"y":{"field":"y","type":"quantitative","axis":null}}},
   {"transform":[{"filter":"datum.k=='g'"}],"mark":{"type":"text","fontSize":9.5,"baseline":"alphabetic","dy":-4},"encoding":{"x":{"field":"tx","type":"quantitative"},"y":{"field":"y","type":"quantitative","axis":null},"text":{"field":"t"}}}
  ]},
 {"width":26,"height":100,"view":{"stroke":null},"title":{"text":"b","anchor":"start","frame":"group","fontSize":17,"dx":2,"dy":17,"offset":-2,"baseline":"alphabetic"},"data":{"values":[]},"mark":"point","encoding":{}},
 {"width":132,"height":95,"view":{"stroke":null},
  "data":{"name":"bc"},"transform":[{"filter":"datum.c=='b1'"},{"calculate":"(datum.a+datum.b)/2","as":"m"}],
  "layer":[
   {"transform":[{"filter":"datum.k=='bar'"}],"mark":{"type":"bar","orient":"vertical","width":32,"stroke":"black","strokeWidth":1.2},
    "encoding":{"x":{"field":"g","type":"quantitative","scale":{"domain":[0.62,3.4],"zero":false,"nice":false},"axis":{"values":[1,2,3],"labelExpr":"datum.value==1?'TNFR2⁺Tregs':datum.value==2?'TNFR2⁻ Tregs':'Tconvs'","title":null,"tickSize":3,"tickWidth":1.2,"domainWidth":1.2,"labelFontSize":8,"labelFontWeight":"bold","labelOverlap":false,"labelFlush":false,"labelPadding":1,"labelOffset":{"condition":[{"test":"datum.value==1","value":-6},{"test":"datum.value==3","value":6}],"value":3}}},
     "y":{"field":"mean","type":"quantitative","stack":null,"scale":{"domain":[0,30],"nice":false,"zero":false},"axis":{"values":[0,10,20,30],"title":"%Ki-67⁺ cells","titlePadding":6,"format":"d"}},
     "fill":{"field":"g","type":"nominal","scale":{"domain":[1,2,3],"range":["#4f4f4f","#a3a3a3","#383838"]},"legend":null}}},
   {"transform":[{"filter":"datum.k=='bar'"}],"mark":{"type":"rule","strokeWidth":1.2,"color":"black"},"encoding":{"x":{"field":"g","type":"quantitative"},"y":{"field":"mean","type":"quantitative"},"y2":{"field":"up"}}},
   {"transform":[{"filter":"datum.k=='bar'"}],"mark":{"type":"tick","orient":"horizontal","size":14,"thickness":1.2,"color":"black"},"encoding":{"x":{"field":"g","type":"quantitative"},"y":{"field":"up","type":"quantitative"}}},
   {"transform":[{"filter":"datum.k=='brk'"}],"mark":{"type":"rule","strokeWidth":1.3,"color":"black"},"encoding":{"x":{"field":"a","type":"quantitative"},"x2":{"field":"b"},"y":{"field":"y","type":"quantitative"}}},
   {"transform":[{"filter":"datum.k=='brk'"}],"mark":{"type":"rule","strokeWidth":1.3,"color":"black"},"encoding":{"x":{"field":"a","type":"quantitative"},"y":{"field":"y","type":"quantitative"},"y2":{"field":"lo"}}},
   {"transform":[{"filter":"datum.k=='brk'"}],"mark":{"type":"rule","strokeWidth":1.3,"color":"black"},"encoding":{"x":{"field":"b","type":"quantitative"},"y":{"field":"y","type":"quantitative"},"y2":{"field":"lo"}}},
   {"transform":[{"filter":"datum.k=='brk'"}],"mark":{"type":"text","text":"P","fontStyle":"italic","fontWeight":"bold","fontSize":9.5,"align":"right","baseline":"alphabetic","dx":-14.1,"dy":-2},"encoding":{"x":{"field":"m","type":"quantitative"},"y":{"field":"y","type":"quantitative"}}},
   {"transform":[{"filter":"datum.k=='brk'"}],"mark":{"type":"text","fontWeight":"bold","fontSize":9.5,"align":"left","baseline":"alphabetic","dx":-14.1,"dy":-2},"encoding":{"x":{"field":"m","type":"quantitative"},"y":{"field":"y","type":"quantitative"},"text":{"field":"t"}}}
  ]},
 {"width":28,"height":100,"view":{"stroke":null},"title":{"text":"c","anchor":"start","frame":"group","fontSize":17,"dx":13,"dy":17,"offset":-2,"baseline":"alphabetic"},"data":{"values":[]},"mark":"point","encoding":{}},
 {"width":136,"height":95,"view":{"stroke":null},
  "data":{"name":"bc"},"transform":[{"filter":"datum.c=='c1'"},{"calculate":"(datum.a+datum.b)/2","as":"m"}],
  "layer":[
   {"transform":[{"filter":"datum.k=='bar'"}],"mark":{"type":"bar","orient":"vertical","width":32,"stroke":"black","strokeWidth":1.2},
    "encoding":{"x":{"field":"g","type":"quantitative","scale":{"domain":[0.49,3.36],"zero":false,"nice":false},"axis":{"values":[1,2,3],"labelExpr":"datum.value==1?'TNFR2⁺Tregs':datum.value==2?'TNFR2⁻ Tregs':'Tconvs'","title":null,"tickSize":3,"tickWidth":1.2,"domainWidth":1.2,"labelFontSize":8,"labelFontWeight":"bold","labelOverlap":false,"labelFlush":false,"labelPadding":1,"labelOffset":{"condition":[{"test":"datum.value==1","value":-6},{"test":"datum.value==3","value":6}],"value":3}}},
     "y":{"field":"mean","type":"quantitative","stack":null,"scale":{"domain":[0,500],"nice":false,"zero":false},"axis":{"values":[0,100,200,300,400,500],"title":"Ki-67 MFI","titlePadding":0,"titleFontSize":9,"format":"d"}},
     "fill":{"field":"g","type":"nominal","scale":{"domain":[1,2,3],"range":["#4f4f4f","#a3a3a3","#383838"]},"legend":null}}},
   {"transform":[{"filter":"datum.k=='bar'"}],"mark":{"type":"rule","strokeWidth":1.2,"color":"black"},"encoding":{"x":{"field":"g","type":"quantitative"},"y":{"field":"mean","type":"quantitative"},"y2":{"field":"up"}}},
   {"transform":[{"filter":"datum.k=='bar'"}],"mark":{"type":"tick","orient":"horizontal","size":14,"thickness":1.2,"color":"black"},"encoding":{"x":{"field":"g","type":"quantitative"},"y":{"field":"up","type":"quantitative"}}},
   {"transform":[{"filter":"datum.k=='brk'"}],"mark":{"type":"rule","strokeWidth":1.3,"color":"black"},"encoding":{"x":{"field":"a","type":"quantitative"},"x2":{"field":"b"},"y":{"field":"y","type":"quantitative"}}},
   {"transform":[{"filter":"datum.k=='brk'"}],"mark":{"type":"rule","strokeWidth":1.3,"color":"black"},"encoding":{"x":{"field":"a","type":"quantitative"},"y":{"field":"y","type":"quantitative"},"y2":{"field":"lo"}}},
   {"transform":[{"filter":"datum.k=='brk'"}],"mark":{"type":"rule","strokeWidth":1.3,"color":"black"},"encoding":{"x":{"field":"b","type":"quantitative"},"y":{"field":"y","type":"quantitative"},"y2":{"field":"lo"}}},
   {"transform":[{"filter":"datum.k=='brk'"}],"mark":{"type":"text","text":"P","fontStyle":"italic","fontWeight":"bold","fontSize":9.5,"align":"right","baseline":"alphabetic","dx":-14.1,"dy":-2},"encoding":{"x":{"field":"m","type":"quantitative"},"y":{"field":"y","type":"quantitative"}}},
   {"transform":[{"filter":"datum.k=='brk'"}],"mark":{"type":"text","fontWeight":"bold","fontSize":9.5,"align":"left","baseline":"alphabetic","dx":-14.1,"dy":-2},"encoding":{"x":{"field":"m","type":"quantitative"},"y":{"field":"y","type":"quantitative"},"text":{"field":"t"}}}
  ]},

 {"width":37,"height":100,"view":{"stroke":null},"data":{"values":[]},"mark":"point","encoding":{}},
 {"width":100,"height":100,"data":{"name":"hist"},"transform":[{"filter":"datum.m=='CTLA-4'&&datum.p=='TNFR2⁺ Tregs'"}],
  "layer":[
   {"transform":[{"filter":"datum.k=='c'"}],"mark":{"type":"area","color":"#575757"},"encoding":{"x":{"field":"x","type":"quantitative","scale":{"domain":[0,100],"nice":false,"zero":false},"axis":{"labels":false,"title":null,"domain":false,"tickSize":3,"tickColor":"#333","tickWidth":0.8,"values":[0,7.5,11.9,15.1,17.5,19.5,21.1,22.6,23.9,25,32.5,36.9,40.1,42.5,44.5,46.1,47.6,48.9,50,57.5,61.9,65.1,67.5,69.5,71.1,72.6,73.9,75,82.5,86.9,90.1,92.5,94.5,96.1,97.6,98.9,100]}},"y":{"field":"y","type":"quantitative","scale":{"domain":[0,100],"nice":false},"axis":{"title":"CTLA-4","labels":false,"ticks":false,"domain":false,"titleAngle":0,"titleAlign":"right","titleBaseline":"middle","titleX":-8,"titleY":50,"titleFontSize":11}}}},
   {"transform":[{"filter":"datum.k=='s'"}],"mark":{"type":"line","color":"black","strokeWidth":1.1},"encoding":{"x":{"field":"x","type":"quantitative"},"y":{"field":"y","type":"quantitative"}}},
   {"transform":[{"filter":"datum.k=='g'"}],"mark":{"type":"rule","color":"#444","strokeWidth":1.3},"encoding":{"x":{"field":"x","type":"quantitative"},"x2":{"datum":100},"y":{"field":"y","type":"quantitative"}}},
   {"transform":[{"filter":"datum.k=='g'"}],"mark":{"type":"tick","orient":"vertical","size":6,"thickness":1.3,"color":"#444"},"encoding":{"x":{"field":"x","type":"quantitative"},"y":{"field":"y","type":"quantitative"}}},
   {"transform":[{"filter":"datum.k=='g'"}],"mark":{"type":"text","fontSize":9.5,"baseline":"alphabetic","dy":-4},"encoding":{"x":{"field":"tx","type":"quantitative"},"y":{"field":"y","type":"quantitative"},"text":{"field":"t"}}}
  ]},
 {"width":100,"height":100,"data":{"name":"hist"},"transform":[{"filter":"datum.m=='CTLA-4'&&datum.p=='TNFR2⁻ Tregs'"}],
  "layer":[
   {"transform":[{"filter":"datum.k=='c'"}],"mark":{"type":"area","color":"#575757"},"encoding":{"x":{"field":"x","type":"quantitative","scale":{"domain":[0,100],"nice":false,"zero":false},"axis":{"labels":false,"title":null,"domain":false,"tickSize":3,"tickColor":"#333","tickWidth":0.8,"values":[0,7.5,11.9,15.1,17.5,19.5,21.1,22.6,23.9,25,32.5,36.9,40.1,42.5,44.5,46.1,47.6,48.9,50,57.5,61.9,65.1,67.5,69.5,71.1,72.6,73.9,75,82.5,86.9,90.1,92.5,94.5,96.1,97.6,98.9,100]}},"y":{"field":"y","type":"quantitative","scale":{"domain":[0,100],"nice":false},"axis":null}}},
   {"transform":[{"filter":"datum.k=='s'"}],"mark":{"type":"line","color":"black","strokeWidth":1.1},"encoding":{"x":{"field":"x","type":"quantitative"},"y":{"field":"y","type":"quantitative","axis":null}}},
   {"transform":[{"filter":"datum.k=='g'"}],"mark":{"type":"rule","color":"#444","strokeWidth":1.3},"encoding":{"x":{"field":"x","type":"quantitative"},"x2":{"datum":100},"y":{"field":"y","type":"quantitative","axis":null}}},
   {"transform":[{"filter":"datum.k=='g'"}],"mark":{"type":"tick","orient":"vertical","size":6,"thickness":1.3,"color":"#444"},"encoding":{"x":{"field":"x","type":"quantitative"},"y":{"field":"y","type":"quantitative","axis":null}}},
   {"transform":[{"filter":"datum.k=='g'"}],"mark":{"type":"text","fontSize":9.5,"baseline":"alphabetic","dy":-4},"encoding":{"x":{"field":"tx","type":"quantitative"},"y":{"field":"y","type":"quantitative","axis":null},"text":{"field":"t"}}}
  ]},
 {"width":100,"height":100,"data":{"name":"hist"},"transform":[{"filter":"datum.m=='CTLA-4'&&datum.p=='Tconvs'"}],
  "layer":[
   {"transform":[{"filter":"datum.k=='c'"}],"mark":{"type":"area","color":"#575757"},"encoding":{"x":{"field":"x","type":"quantitative","scale":{"domain":[0,100],"nice":false,"zero":false},"axis":{"labels":false,"title":null,"domain":false,"tickSize":3,"tickColor":"#333","tickWidth":0.8,"values":[0,7.5,11.9,15.1,17.5,19.5,21.1,22.6,23.9,25,32.5,36.9,40.1,42.5,44.5,46.1,47.6,48.9,50,57.5,61.9,65.1,67.5,69.5,71.1,72.6,73.9,75,82.5,86.9,90.1,92.5,94.5,96.1,97.6,98.9,100]}},"y":{"field":"y","type":"quantitative","scale":{"domain":[0,100],"nice":false},"axis":null}}},
   {"transform":[{"filter":"datum.k=='s'"}],"mark":{"type":"line","color":"black","strokeWidth":1.1},"encoding":{"x":{"field":"x","type":"quantitative"},"y":{"field":"y","type":"quantitative","axis":null}}},
   {"transform":[{"filter":"datum.k=='g'"}],"mark":{"type":"rule","color":"#444","strokeWidth":1.3},"encoding":{"x":{"field":"x","type":"quantitative"},"x2":{"datum":100},"y":{"field":"y","type":"quantitative","axis":null}}},
   {"transform":[{"filter":"datum.k=='g'"}],"mark":{"type":"tick","orient":"vertical","size":6,"thickness":1.3,"color":"#444"},"encoding":{"x":{"field":"x","type":"quantitative"},"y":{"field":"y","type":"quantitative","axis":null}}},
   {"transform":[{"filter":"datum.k=='g'"}],"mark":{"type":"text","fontSize":9.5,"baseline":"alphabetic","dy":-4},"encoding":{"x":{"field":"tx","type":"quantitative"},"y":{"field":"y","type":"quantitative","axis":null},"text":{"field":"t"}}}
  ]},
 {"width":26,"height":100,"view":{"stroke":null},"data":{"values":[]},"mark":"point","encoding":{}},
 {"width":132,"height":95,"view":{"stroke":null},
  "data":{"name":"bc"},"transform":[{"filter":"datum.c=='b2'"},{"calculate":"(datum.a+datum.b)/2","as":"m"}],
  "layer":[
   {"transform":[{"filter":"datum.k=='bar'"}],"mark":{"type":"bar","orient":"vertical","width":32,"stroke":"black","strokeWidth":1.2},
    "encoding":{"x":{"field":"g","type":"quantitative","scale":{"domain":[0.62,3.4],"zero":false,"nice":false},"axis":{"values":[1,2,3],"labelExpr":"datum.value==1?'TNFR2⁺Tregs':datum.value==2?'TNFR2⁻ Tregs':'Tconvs'","title":null,"tickSize":3,"tickWidth":1.2,"domainWidth":1.2,"labelFontSize":8,"labelFontWeight":"bold","labelOverlap":false,"labelFlush":false,"labelPadding":1,"labelOffset":{"condition":[{"test":"datum.value==1","value":-6},{"test":"datum.value==3","value":6}],"value":3}}},
     "y":{"field":"mean","type":"quantitative","stack":null,"scale":{"domain":[0,80],"nice":false,"zero":false},"axis":{"values":[0,20,40,60,80],"title":"%CTLA-4⁺ cells","titlePadding":6,"format":"d"}},
     "fill":{"field":"g","type":"nominal","scale":{"domain":[1,2,3],"range":["#4f4f4f","#a3a3a3","#383838"]},"legend":null}}},
   {"transform":[{"filter":"datum.k=='bar'"}],"mark":{"type":"rule","strokeWidth":1.2,"color":"black"},"encoding":{"x":{"field":"g","type":"quantitative"},"y":{"field":"mean","type":"quantitative"},"y2":{"field":"up"}}},
   {"transform":[{"filter":"datum.k=='bar'"}],"mark":{"type":"tick","orient":"horizontal","size":14,"thickness":1.2,"color":"black"},"encoding":{"x":{"field":"g","type":"quantitative"},"y":{"field":"up","type":"quantitative"}}},
   {"transform":[{"filter":"datum.k=='brk'"}],"mark":{"type":"rule","strokeWidth":1.3,"color":"black"},"encoding":{"x":{"field":"a","type":"quantitative"},"x2":{"field":"b"},"y":{"field":"y","type":"quantitative"}}},
   {"transform":[{"filter":"datum.k=='brk'"}],"mark":{"type":"rule","strokeWidth":1.3,"color":"black"},"encoding":{"x":{"field":"a","type":"quantitative"},"y":{"field":"y","type":"quantitative"},"y2":{"field":"lo"}}},
   {"transform":[{"filter":"datum.k=='brk'"}],"mark":{"type":"rule","strokeWidth":1.3,"color":"black"},"encoding":{"x":{"field":"b","type":"quantitative"},"y":{"field":"y","type":"quantitative"},"y2":{"field":"lo"}}},
   {"transform":[{"filter":"datum.k=='brk'"}],"mark":{"type":"text","text":"P","fontStyle":"italic","fontWeight":"bold","fontSize":9.5,"align":"right","baseline":"alphabetic","dx":-8.9,"dy":-2},"encoding":{"x":{"field":"m","type":"quantitative"},"y":{"field":"y","type":"quantitative"}}},
   {"transform":[{"filter":"datum.k=='brk'"}],"mark":{"type":"text","fontWeight":"bold","fontSize":9.5,"align":"left","baseline":"alphabetic","dx":-8.9,"dy":-2},"encoding":{"x":{"field":"m","type":"quantitative"},"y":{"field":"y","type":"quantitative"},"text":{"field":"t"}}}
  ]},
 {"width":28,"height":100,"view":{"stroke":null},"data":{"values":[]},"mark":"point","encoding":{}},
 {"width":136,"height":95,"view":{"stroke":null},
  "data":{"name":"bc"},"transform":[{"filter":"datum.c=='c2'"},{"calculate":"(datum.a+datum.b)/2","as":"m"}],
  "layer":[
   {"transform":[{"filter":"datum.k=='bar'"}],"mark":{"type":"bar","orient":"vertical","width":32,"stroke":"black","strokeWidth":1.2},
    "encoding":{"x":{"field":"g","type":"quantitative","scale":{"domain":[0.49,3.36],"zero":false,"nice":false},"axis":{"values":[1,2,3],"labelExpr":"datum.value==1?'TNFR2⁺Tregs':datum.value==2?'TNFR2⁻ Tregs':'Tconvs'","title":null,"tickSize":3,"tickWidth":1.2,"domainWidth":1.2,"labelFontSize":8,"labelFontWeight":"bold","labelOverlap":false,"labelFlush":false,"labelPadding":1,"labelOffset":{"condition":[{"test":"datum.value==1","value":-6},{"test":"datum.value==3","value":6}],"value":3}}},
     "y":{"field":"mean","type":"quantitative","stack":null,"scale":{"domain":[0,2000],"nice":false,"zero":false},"axis":{"values":[0,500,1000,1500,2000],"title":"CTLA-4 MFI","titlePadding":0,"titleFontSize":9,"format":"d"}},
     "fill":{"field":"g","type":"nominal","scale":{"domain":[1,2,3],"range":["#4f4f4f","#a3a3a3","#383838"]},"legend":null}}},
   {"transform":[{"filter":"datum.k=='bar'"}],"mark":{"type":"rule","strokeWidth":1.2,"color":"black"},"encoding":{"x":{"field":"g","type":"quantitative"},"y":{"field":"mean","type":"quantitative"},"y2":{"field":"up"}}},
   {"transform":[{"filter":"datum.k=='bar'"}],"mark":{"type":"tick","orient":"horizontal","size":14,"thickness":1.2,"color":"black"},"encoding":{"x":{"field":"g","type":"quantitative"},"y":{"field":"up","type":"quantitative"}}},
   {"transform":[{"filter":"datum.k=='brk'"}],"mark":{"type":"rule","strokeWidth":1.3,"color":"black"},"encoding":{"x":{"field":"a","type":"quantitative"},"x2":{"field":"b"},"y":{"field":"y","type":"quantitative"}}},
   {"transform":[{"filter":"datum.k=='brk'"}],"mark":{"type":"rule","strokeWidth":1.3,"color":"black"},"encoding":{"x":{"field":"a","type":"quantitative"},"y":{"field":"y","type":"quantitative"},"y2":{"field":"lo"}}},
   {"transform":[{"filter":"datum.k=='brk'"}],"mark":{"type":"rule","strokeWidth":1.3,"color":"black"},"encoding":{"x":{"field":"b","type":"quantitative"},"y":{"field":"y","type":"quantitative"},"y2":{"field":"lo"}}},
   {"transform":[{"filter":"datum.k=='brk'"}],"mark":{"type":"text","text":"P","fontStyle":"italic","fontWeight":"bold","fontSize":9.5,"align":"right","baseline":"alphabetic","dx":-8.9,"dy":-2},"encoding":{"x":{"field":"m","type":"quantitative"},"y":{"field":"y","type":"quantitative"}}},
   {"transform":[{"filter":"datum.k=='brk'"}],"mark":{"type":"text","fontWeight":"bold","fontSize":9.5,"align":"left","baseline":"alphabetic","dx":-8.9,"dy":-2},"encoding":{"x":{"field":"m","type":"quantitative"},"y":{"field":"y","type":"quantitative"},"text":{"field":"t"}}}
  ]},

 {"width":37,"height":100,"view":{"stroke":null},"data":{"values":[]},"mark":"point","encoding":{}},
 {"width":100,"height":100,"data":{"name":"hist"},"transform":[{"filter":"datum.m=='CD25'&&datum.p=='TNFR2⁺ Tregs'"}],
  "layer":[
   {"transform":[{"filter":"datum.k=='c'"}],"mark":{"type":"area","color":"#575757"},"encoding":{"x":{"field":"x","type":"quantitative","scale":{"domain":[0,100],"nice":false,"zero":false},"axis":{"labels":false,"title":null,"domain":false,"tickSize":3,"tickColor":"#333","tickWidth":0.8,"values":[0,7.5,11.9,15.1,17.5,19.5,21.1,22.6,23.9,25,32.5,36.9,40.1,42.5,44.5,46.1,47.6,48.9,50,57.5,61.9,65.1,67.5,69.5,71.1,72.6,73.9,75,82.5,86.9,90.1,92.5,94.5,96.1,97.6,98.9,100]}},"y":{"field":"y","type":"quantitative","scale":{"domain":[0,100],"nice":false},"axis":{"title":"CD25","labels":false,"ticks":false,"domain":false,"titleAngle":0,"titleAlign":"right","titleBaseline":"middle","titleX":-8,"titleY":55,"titleFontSize":11}}}},
   {"transform":[{"filter":"datum.k=='s'"}],"mark":{"type":"line","color":"black","strokeWidth":1.1},"encoding":{"x":{"field":"x","type":"quantitative"},"y":{"field":"y","type":"quantitative"}}},
   {"transform":[{"filter":"datum.k=='g'"}],"mark":{"type":"rule","color":"#444","strokeWidth":1.3},"encoding":{"x":{"field":"x","type":"quantitative"},"x2":{"datum":100},"y":{"field":"y","type":"quantitative"}}},
   {"transform":[{"filter":"datum.k=='g'"}],"mark":{"type":"tick","orient":"vertical","size":6,"thickness":1.3,"color":"#444"},"encoding":{"x":{"field":"x","type":"quantitative"},"y":{"field":"y","type":"quantitative"}}},
   {"transform":[{"filter":"datum.k=='g'"}],"mark":{"type":"text","fontSize":9.5,"baseline":"alphabetic","dy":-4},"encoding":{"x":{"field":"tx","type":"quantitative"},"y":{"field":"y","type":"quantitative"},"text":{"field":"t"}}}
  ]},
 {"width":100,"height":100,"data":{"name":"hist"},"transform":[{"filter":"datum.m=='CD25'&&datum.p=='TNFR2⁻ Tregs'"}],
  "layer":[
   {"transform":[{"filter":"datum.k=='c'"}],"mark":{"type":"area","color":"#575757"},"encoding":{"x":{"field":"x","type":"quantitative","scale":{"domain":[0,100],"nice":false,"zero":false},"axis":{"labels":false,"title":null,"domain":false,"tickSize":3,"tickColor":"#333","tickWidth":0.8,"values":[0,7.5,11.9,15.1,17.5,19.5,21.1,22.6,23.9,25,32.5,36.9,40.1,42.5,44.5,46.1,47.6,48.9,50,57.5,61.9,65.1,67.5,69.5,71.1,72.6,73.9,75,82.5,86.9,90.1,92.5,94.5,96.1,97.6,98.9,100]}},"y":{"field":"y","type":"quantitative","scale":{"domain":[0,100],"nice":false},"axis":null}}},
   {"transform":[{"filter":"datum.k=='s'"}],"mark":{"type":"line","color":"black","strokeWidth":1.1},"encoding":{"x":{"field":"x","type":"quantitative"},"y":{"field":"y","type":"quantitative","axis":null}}},
   {"transform":[{"filter":"datum.k=='g'"}],"mark":{"type":"rule","color":"#444","strokeWidth":1.3},"encoding":{"x":{"field":"x","type":"quantitative"},"x2":{"datum":100},"y":{"field":"y","type":"quantitative","axis":null}}},
   {"transform":[{"filter":"datum.k=='g'"}],"mark":{"type":"tick","orient":"vertical","size":6,"thickness":1.3,"color":"#444"},"encoding":{"x":{"field":"x","type":"quantitative"},"y":{"field":"y","type":"quantitative","axis":null}}},
   {"transform":[{"filter":"datum.k=='g'"}],"mark":{"type":"text","fontSize":9.5,"baseline":"alphabetic","dy":-4},"encoding":{"x":{"field":"tx","type":"quantitative"},"y":{"field":"y","type":"quantitative","axis":null},"text":{"field":"t"}}}
  ]},
 {"width":100,"height":100,"data":{"name":"hist"},"transform":[{"filter":"datum.m=='CD25'&&datum.p=='Tconvs'"}],
  "layer":[
   {"transform":[{"filter":"datum.k=='c'"}],"mark":{"type":"area","color":"#575757"},"encoding":{"x":{"field":"x","type":"quantitative","scale":{"domain":[0,100],"nice":false,"zero":false},"axis":{"labels":false,"title":null,"domain":false,"tickSize":3,"tickColor":"#333","tickWidth":0.8,"values":[0,7.5,11.9,15.1,17.5,19.5,21.1,22.6,23.9,25,32.5,36.9,40.1,42.5,44.5,46.1,47.6,48.9,50,57.5,61.9,65.1,67.5,69.5,71.1,72.6,73.9,75,82.5,86.9,90.1,92.5,94.5,96.1,97.6,98.9,100]}},"y":{"field":"y","type":"quantitative","scale":{"domain":[0,100],"nice":false},"axis":null}}},
   {"transform":[{"filter":"datum.k=='s'"}],"mark":{"type":"line","color":"black","strokeWidth":1.1},"encoding":{"x":{"field":"x","type":"quantitative"},"y":{"field":"y","type":"quantitative","axis":null}}},
   {"transform":[{"filter":"datum.k=='g'"}],"mark":{"type":"rule","color":"#444","strokeWidth":1.3},"encoding":{"x":{"field":"x","type":"quantitative"},"x2":{"datum":100},"y":{"field":"y","type":"quantitative","axis":null}}},
   {"transform":[{"filter":"datum.k=='g'"}],"mark":{"type":"tick","orient":"vertical","size":6,"thickness":1.3,"color":"#444"},"encoding":{"x":{"field":"x","type":"quantitative"},"y":{"field":"y","type":"quantitative","axis":null}}},
   {"transform":[{"filter":"datum.k=='g'"}],"mark":{"type":"text","fontSize":9.5,"baseline":"alphabetic","dy":-4},"encoding":{"x":{"field":"tx","type":"quantitative"},"y":{"field":"y","type":"quantitative","axis":null},"text":{"field":"t"}}}
  ]},
 {"width":26,"height":100,"view":{"stroke":null},"data":{"values":[]},"mark":"point","encoding":{}},
 {"width":132,"height":95,"view":{"stroke":null},
  "data":{"name":"bc"},"transform":[{"filter":"datum.c=='b3'"},{"calculate":"(datum.a+datum.b)/2","as":"m"}],
  "layer":[
   {"transform":[{"filter":"datum.k=='bar'"}],"mark":{"type":"bar","orient":"vertical","width":32,"stroke":"black","strokeWidth":1.2},
    "encoding":{"x":{"field":"g","type":"quantitative","scale":{"domain":[0.62,3.4],"zero":false,"nice":false},"axis":{"values":[1,2,3],"labelExpr":"datum.value==1?'TNFR2⁺Tregs':datum.value==2?'TNFR2⁻ Tregs':'Tconvs'","title":null,"tickSize":3,"tickWidth":1.2,"domainWidth":1.2,"labelFontSize":8,"labelFontWeight":"bold","labelOverlap":false,"labelFlush":false,"labelPadding":1,"labelOffset":{"condition":[{"test":"datum.value==1","value":-6},{"test":"datum.value==3","value":6}],"value":3}}},
     "y":{"field":"mean","type":"quantitative","stack":null,"scale":{"domain":[0,100],"nice":false,"zero":false},"axis":{"values":[0,20,40,60,80,100],"title":"%CD25⁺ cells","titlePadding":3,"format":"d"}},
     "fill":{"field":"g","type":"nominal","scale":{"domain":[1,2,3],"range":["#4f4f4f","#a3a3a3","#383838"]},"legend":null}}},
   {"transform":[{"filter":"datum.k=='bar'"}],"mark":{"type":"rule","strokeWidth":1.2,"color":"black"},"encoding":{"x":{"field":"g","type":"quantitative"},"y":{"field":"mean","type":"quantitative"},"y2":{"field":"up"}}},
   {"transform":[{"filter":"datum.k=='bar'"}],"mark":{"type":"tick","orient":"horizontal","size":14,"thickness":1.2,"color":"black"},"encoding":{"x":{"field":"g","type":"quantitative"},"y":{"field":"up","type":"quantitative"}}},
   {"transform":[{"filter":"datum.k=='brk'"}],"mark":{"type":"rule","strokeWidth":1.3,"color":"black"},"encoding":{"x":{"field":"a","type":"quantitative"},"x2":{"field":"b"},"y":{"field":"y","type":"quantitative"}}},
   {"transform":[{"filter":"datum.k=='brk'"}],"mark":{"type":"rule","strokeWidth":1.3,"color":"black"},"encoding":{"x":{"field":"a","type":"quantitative"},"y":{"field":"y","type":"quantitative"},"y2":{"field":"lo"}}},
   {"transform":[{"filter":"datum.k=='brk'"}],"mark":{"type":"rule","strokeWidth":1.3,"color":"black"},"encoding":{"x":{"field":"b","type":"quantitative"},"y":{"field":"y","type":"quantitative"},"y2":{"field":"lo"}}},
   {"transform":[{"filter":"datum.k=='brk'"}],"mark":{"type":"text","text":"P","fontStyle":"italic","fontWeight":"bold","fontSize":9.5,"align":"right","baseline":"alphabetic","dx":-14.1,"dy":-2},"encoding":{"x":{"field":"m","type":"quantitative"},"y":{"field":"y","type":"quantitative"}}},
   {"transform":[{"filter":"datum.k=='brk'"}],"mark":{"type":"text","fontWeight":"bold","fontSize":9.5,"align":"left","baseline":"alphabetic","dx":-14.1,"dy":-2},"encoding":{"x":{"field":"m","type":"quantitative"},"y":{"field":"y","type":"quantitative"},"text":{"field":"t"}}}
  ]},
 {"width":28,"height":100,"view":{"stroke":null},"data":{"values":[]},"mark":"point","encoding":{}},
 {"width":136,"height":95,"view":{"stroke":null},
  "data":{"name":"bc"},"transform":[{"filter":"datum.c=='c3'"},{"calculate":"(datum.a+datum.b)/2","as":"m"}],
  "layer":[
   {"transform":[{"filter":"datum.k=='bar'"}],"mark":{"type":"bar","orient":"vertical","width":32,"stroke":"black","strokeWidth":1.2},
    "encoding":{"x":{"field":"g","type":"quantitative","scale":{"domain":[0.49,3.36],"zero":false,"nice":false},"axis":{"values":[1,2,3],"labelExpr":"datum.value==1?'TNFR2⁺Tregs':datum.value==2?'TNFR2⁻ Tregs':'Tconvs'","title":null,"tickSize":3,"tickWidth":1.2,"domainWidth":1.2,"labelFontSize":8,"labelFontWeight":"bold","labelOverlap":false,"labelFlush":false,"labelPadding":1,"labelOffset":{"condition":[{"test":"datum.value==1","value":-6},{"test":"datum.value==3","value":6}],"value":3}}},
     "y":{"field":"mean","type":"quantitative","stack":null,"scale":{"domain":[0,1500],"nice":false,"zero":false},"axis":{"values":[0,500,1000,1500],"title":"CD25 MFI","titlePadding":0,"titleFontSize":9,"format":"d"}},
     "fill":{"field":"g","type":"nominal","scale":{"domain":[1,2,3],"range":["#4f4f4f","#a3a3a3","#383838"]},"legend":null}}},
   {"transform":[{"filter":"datum.k=='bar'"}],"mark":{"type":"rule","strokeWidth":1.2,"color":"black"},"encoding":{"x":{"field":"g","type":"quantitative"},"y":{"field":"mean","type":"quantitative"},"y2":{"field":"up"}}},
   {"transform":[{"filter":"datum.k=='bar'"}],"mark":{"type":"tick","orient":"horizontal","size":14,"thickness":1.2,"color":"black"},"encoding":{"x":{"field":"g","type":"quantitative"},"y":{"field":"up","type":"quantitative"}}},
   {"transform":[{"filter":"datum.k=='brk'"}],"mark":{"type":"rule","strokeWidth":1.3,"color":"black"},"encoding":{"x":{"field":"a","type":"quantitative"},"x2":{"field":"b"},"y":{"field":"y","type":"quantitative"}}},
   {"transform":[{"filter":"datum.k=='brk'"}],"mark":{"type":"rule","strokeWidth":1.3,"color":"black"},"encoding":{"x":{"field":"a","type":"quantitative"},"y":{"field":"y","type":"quantitative"},"y2":{"field":"lo"}}},
   {"transform":[{"filter":"datum.k=='brk'"}],"mark":{"type":"rule","strokeWidth":1.3,"color":"black"},"encoding":{"x":{"field":"b","type":"quantitative"},"y":{"field":"y","type":"quantitative"},"y2":{"field":"lo"}}},
   {"transform":[{"filter":"datum.k=='brk'"}],"mark":{"type":"text","text":"P","fontStyle":"italic","fontWeight":"bold","fontSize":9.5,"align":"right","baseline":"alphabetic","dx":-14.1,"dy":-2},"encoding":{"x":{"field":"m","type":"quantitative"},"y":{"field":"y","type":"quantitative"}}},
   {"transform":[{"filter":"datum.k=='brk'"}],"mark":{"type":"text","fontWeight":"bold","fontSize":9.5,"align":"left","baseline":"alphabetic","dx":-14.1,"dy":-2},"encoding":{"x":{"field":"m","type":"quantitative"},"y":{"field":"y","type":"quantitative"},"text":{"field":"t"}}}
  ]},

 {"width":37,"height":100,"view":{"stroke":null},"data":{"values":[]},"mark":"point","encoding":{}},
 {"width":100,"height":100,"data":{"name":"hist"},"transform":[{"filter":"datum.m=='CD127'&&datum.p=='TNFR2⁺ Tregs'"}],
  "layer":[
   {"transform":[{"filter":"datum.k=='c'"}],"mark":{"type":"area","color":"#575757"},"encoding":{"x":{"field":"x","type":"quantitative","scale":{"domain":[0,100],"nice":false,"zero":false},"axis":{"labels":false,"title":null,"domain":false,"tickSize":3,"tickColor":"#333","tickWidth":0.8,"values":[0,7.5,11.9,15.1,17.5,19.5,21.1,22.6,23.9,25,32.5,36.9,40.1,42.5,44.5,46.1,47.6,48.9,50,57.5,61.9,65.1,67.5,69.5,71.1,72.6,73.9,75,82.5,86.9,90.1,92.5,94.5,96.1,97.6,98.9,100]}},"y":{"field":"y","type":"quantitative","scale":{"domain":[0,100],"nice":false},"axis":{"title":"CD127","labels":false,"ticks":false,"domain":false,"titleAngle":0,"titleAlign":"right","titleBaseline":"middle","titleX":-8,"titleY":58,"titleFontSize":11}}}},
   {"transform":[{"filter":"datum.k=='s'"}],"mark":{"type":"line","color":"black","strokeWidth":1.1},"encoding":{"x":{"field":"x","type":"quantitative"},"y":{"field":"y","type":"quantitative"}}},
   {"transform":[{"filter":"datum.k=='g'"}],"mark":{"type":"rule","color":"#444","strokeWidth":1.3},"encoding":{"x":{"field":"x","type":"quantitative"},"x2":{"datum":100},"y":{"field":"y","type":"quantitative"}}},
   {"transform":[{"filter":"datum.k=='g'"}],"mark":{"type":"tick","orient":"vertical","size":6,"thickness":1.3,"color":"#444"},"encoding":{"x":{"field":"x","type":"quantitative"},"y":{"field":"y","type":"quantitative"}}},
   {"transform":[{"filter":"datum.k=='g'"}],"mark":{"type":"text","fontSize":9.5,"baseline":"alphabetic","dy":-4},"encoding":{"x":{"field":"tx","type":"quantitative"},"y":{"field":"y","type":"quantitative"},"text":{"field":"t"}}}
  ]},
 {"width":100,"height":100,"data":{"name":"hist"},"transform":[{"filter":"datum.m=='CD127'&&datum.p=='TNFR2⁻ Tregs'"}],
  "layer":[
   {"transform":[{"filter":"datum.k=='c'"}],"mark":{"type":"area","color":"#575757"},"encoding":{"x":{"field":"x","type":"quantitative","scale":{"domain":[0,100],"nice":false,"zero":false},"axis":{"labels":false,"title":null,"domain":false,"tickSize":3,"tickColor":"#333","tickWidth":0.8,"values":[0,7.5,11.9,15.1,17.5,19.5,21.1,22.6,23.9,25,32.5,36.9,40.1,42.5,44.5,46.1,47.6,48.9,50,57.5,61.9,65.1,67.5,69.5,71.1,72.6,73.9,75,82.5,86.9,90.1,92.5,94.5,96.1,97.6,98.9,100]}},"y":{"field":"y","type":"quantitative","scale":{"domain":[0,100],"nice":false},"axis":null}}},
   {"transform":[{"filter":"datum.k=='s'"}],"mark":{"type":"line","color":"black","strokeWidth":1.1},"encoding":{"x":{"field":"x","type":"quantitative"},"y":{"field":"y","type":"quantitative","axis":null}}},
   {"transform":[{"filter":"datum.k=='g'"}],"mark":{"type":"rule","color":"#444","strokeWidth":1.3},"encoding":{"x":{"field":"x","type":"quantitative"},"x2":{"datum":100},"y":{"field":"y","type":"quantitative","axis":null}}},
   {"transform":[{"filter":"datum.k=='g'"}],"mark":{"type":"tick","orient":"vertical","size":6,"thickness":1.3,"color":"#444"},"encoding":{"x":{"field":"x","type":"quantitative"},"y":{"field":"y","type":"quantitative","axis":null}}},
   {"transform":[{"filter":"datum.k=='g'"}],"mark":{"type":"text","fontSize":9.5,"baseline":"alphabetic","dy":-4},"encoding":{"x":{"field":"tx","type":"quantitative"},"y":{"field":"y","type":"quantitative","axis":null},"text":{"field":"t"}}}
  ]},
 {"width":100,"height":100,"data":{"name":"hist"},"transform":[{"filter":"datum.m=='CD127'&&datum.p=='Tconvs'"}],
  "layer":[
   {"transform":[{"filter":"datum.k=='c'"}],"mark":{"type":"area","color":"#575757"},"encoding":{"x":{"field":"x","type":"quantitative","scale":{"domain":[0,100],"nice":false,"zero":false},"axis":{"labels":false,"title":null,"domain":false,"tickSize":3,"tickColor":"#333","tickWidth":0.8,"values":[0,7.5,11.9,15.1,17.5,19.5,21.1,22.6,23.9,25,32.5,36.9,40.1,42.5,44.5,46.1,47.6,48.9,50,57.5,61.9,65.1,67.5,69.5,71.1,72.6,73.9,75,82.5,86.9,90.1,92.5,94.5,96.1,97.6,98.9,100]}},"y":{"field":"y","type":"quantitative","scale":{"domain":[0,100],"nice":false},"axis":null}}},
   {"transform":[{"filter":"datum.k=='s'"}],"mark":{"type":"line","color":"black","strokeWidth":1.1},"encoding":{"x":{"field":"x","type":"quantitative"},"y":{"field":"y","type":"quantitative","axis":null}}},
   {"transform":[{"filter":"datum.k=='g'"}],"mark":{"type":"rule","color":"#444","strokeWidth":1.3},"encoding":{"x":{"field":"x","type":"quantitative"},"x2":{"datum":100},"y":{"field":"y","type":"quantitative","axis":null}}},
   {"transform":[{"filter":"datum.k=='g'"}],"mark":{"type":"tick","orient":"vertical","size":6,"thickness":1.3,"color":"#444"},"encoding":{"x":{"field":"x","type":"quantitative"},"y":{"field":"y","type":"quantitative","axis":null}}},
   {"transform":[{"filter":"datum.k=='g'"}],"mark":{"type":"text","fontSize":9.5,"baseline":"alphabetic","dy":-4},"encoding":{"x":{"field":"tx","type":"quantitative"},"y":{"field":"y","type":"quantitative","axis":null},"text":{"field":"t"}}}
  ]},
 {"width":26,"height":100,"view":{"stroke":null},"data":{"values":[]},"mark":"point","encoding":{}},
 {"width":132,"height":95,"view":{"stroke":null},
  "data":{"name":"bc"},"transform":[{"filter":"datum.c=='b4'"},{"calculate":"(datum.a+datum.b)/2","as":"m"}],
  "layer":[
   {"transform":[{"filter":"datum.k=='bar'"}],"mark":{"type":"bar","orient":"vertical","width":32,"stroke":"black","strokeWidth":1.2},
    "encoding":{"x":{"field":"g","type":"quantitative","scale":{"domain":[0.62,3.4],"zero":false,"nice":false},"axis":{"values":[1,2,3],"labelExpr":"datum.value==1?'TNFR2⁺Tregs':datum.value==2?'TNFR2⁻ Tregs':'Tconvs'","title":null,"tickSize":3,"tickWidth":1.2,"domainWidth":1.2,"labelFontSize":8,"labelFontWeight":"bold","labelOverlap":false,"labelFlush":false,"labelPadding":1,"labelOffset":{"condition":[{"test":"datum.value==1","value":-6},{"test":"datum.value==3","value":6}],"value":3}}},
     "y":{"field":"mean","type":"quantitative","stack":null,"scale":{"domain":[0,100],"nice":false,"zero":false},"axis":{"values":[0,20,40,60,80,100],"title":"%CD127⁺ cells","titlePadding":3,"format":"d"}},
     "fill":{"field":"g","type":"nominal","scale":{"domain":[1,2,3],"range":["#4f4f4f","#a3a3a3","#383838"]},"legend":null}}},
   {"transform":[{"filter":"datum.k=='bar'"}],"mark":{"type":"rule","strokeWidth":1.2,"color":"black"},"encoding":{"x":{"field":"g","type":"quantitative"},"y":{"field":"mean","type":"quantitative"},"y2":{"field":"up"}}},
   {"transform":[{"filter":"datum.k=='bar'"}],"mark":{"type":"tick","orient":"horizontal","size":14,"thickness":1.2,"color":"black"},"encoding":{"x":{"field":"g","type":"quantitative"},"y":{"field":"up","type":"quantitative"}}},
   {"transform":[{"filter":"datum.k=='brk'"}],"mark":{"type":"rule","strokeWidth":1.3,"color":"black"},"encoding":{"x":{"field":"a","type":"quantitative"},"x2":{"field":"b"},"y":{"field":"y","type":"quantitative"}}},
   {"transform":[{"filter":"datum.k=='brk'"}],"mark":{"type":"rule","strokeWidth":1.3,"color":"black"},"encoding":{"x":{"field":"a","type":"quantitative"},"y":{"field":"y","type":"quantitative"},"y2":{"field":"lo"}}},
   {"transform":[{"filter":"datum.k=='brk'"}],"mark":{"type":"rule","strokeWidth":1.3,"color":"black"},"encoding":{"x":{"field":"b","type":"quantitative"},"y":{"field":"y","type":"quantitative"},"y2":{"field":"lo"}}},
   {"transform":[{"filter":"datum.k=='brk'"}],"mark":{"type":"text","text":"P","fontStyle":"italic","fontWeight":"bold","fontSize":9.5,"align":"right","baseline":"alphabetic","dx":-14.1,"dy":-2},"encoding":{"x":{"field":"m","type":"quantitative"},"y":{"field":"y","type":"quantitative"}}},
   {"transform":[{"filter":"datum.k=='brk'"}],"mark":{"type":"text","fontWeight":"bold","fontSize":9.5,"align":"left","baseline":"alphabetic","dx":-14.1,"dy":-2},"encoding":{"x":{"field":"m","type":"quantitative"},"y":{"field":"y","type":"quantitative"},"text":{"field":"t"}}}
  ]},
 {"width":28,"height":100,"view":{"stroke":null},"data":{"values":[]},"mark":"point","encoding":{}},
 {"width":136,"height":95,"view":{"stroke":null},
  "data":{"name":"bc"},"transform":[{"filter":"datum.c=='c4'"},{"calculate":"(datum.a+datum.b)/2","as":"m"}],
  "layer":[
   {"transform":[{"filter":"datum.k=='bar'"}],"mark":{"type":"bar","orient":"vertical","width":32,"stroke":"black","strokeWidth":1.2},
    "encoding":{"x":{"field":"g","type":"quantitative","scale":{"domain":[0.49,3.36],"zero":false,"nice":false},"axis":{"values":[1,2,3],"labelExpr":"datum.value==1?'TNFR2⁺Tregs':datum.value==2?'TNFR2⁻ Tregs':'Tconvs'","title":null,"tickSize":3,"tickWidth":1.2,"domainWidth":1.2,"labelFontSize":8,"labelFontWeight":"bold","labelOverlap":false,"labelFlush":false,"labelPadding":1,"labelOffset":{"condition":[{"test":"datum.value==1","value":-6},{"test":"datum.value==3","value":6}],"value":3}}},
     "y":{"field":"mean","type":"quantitative","stack":null,"scale":{"domain":[0,4000],"nice":false,"zero":false},"axis":{"values":[0,1000,2000,3000,4000],"title":"CD127 MFI","titlePadding":0,"titleFontSize":9,"format":"d"}},
     "fill":{"field":"g","type":"nominal","scale":{"domain":[1,2,3],"range":["#4f4f4f","#a3a3a3","#383838"]},"legend":null}}},
   {"transform":[{"filter":"datum.k=='bar'"}],"mark":{"type":"rule","strokeWidth":1.2,"color":"black"},"encoding":{"x":{"field":"g","type":"quantitative"},"y":{"field":"mean","type":"quantitative"},"y2":{"field":"up"}}},
   {"transform":[{"filter":"datum.k=='bar'"}],"mark":{"type":"tick","orient":"horizontal","size":14,"thickness":1.2,"color":"black"},"encoding":{"x":{"field":"g","type":"quantitative"},"y":{"field":"up","type":"quantitative"}}},
   {"transform":[{"filter":"datum.k=='brk'"}],"mark":{"type":"rule","strokeWidth":1.3,"color":"black"},"encoding":{"x":{"field":"a","type":"quantitative"},"x2":{"field":"b"},"y":{"field":"y","type":"quantitative"}}},
   {"transform":[{"filter":"datum.k=='brk'"}],"mark":{"type":"rule","strokeWidth":1.3,"color":"black"},"encoding":{"x":{"field":"a","type":"quantitative"},"y":{"field":"y","type":"quantitative"},"y2":{"field":"lo"}}},
   {"transform":[{"filter":"datum.k=='brk'"}],"mark":{"type":"rule","strokeWidth":1.3,"color":"black"},"encoding":{"x":{"field":"b","type":"quantitative"},"y":{"field":"y","type":"quantitative"},"y2":{"field":"lo"}}},
   {"transform":[{"filter":"datum.k=='brk'"}],"mark":{"type":"text","text":"P","fontStyle":"italic","fontWeight":"bold","fontSize":9.5,"align":"right","baseline":"alphabetic","dx":-14.1,"dy":-2},"encoding":{"x":{"field":"m","type":"quantitative"},"y":{"field":"y","type":"quantitative"}}},
   {"transform":[{"filter":"datum.k=='brk'"}],"mark":{"type":"text","fontWeight":"bold","fontSize":9.5,"align":"left","baseline":"alphabetic","dx":-14.1,"dy":-2},"encoding":{"x":{"field":"m","type":"quantitative"},"y":{"field":"y","type":"quantitative"},"text":{"field":"t"}}}
  ]}
]
}
